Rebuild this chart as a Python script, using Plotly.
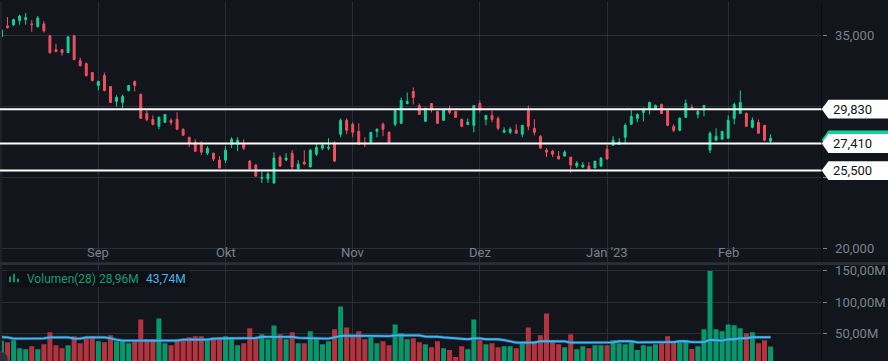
import plotly.graph_objects as go

# ---------------- data ----------------
open_ = [34930, 35700, 35770, 36070, 36140, 35840, 35630, 35840, 35000, 34020,
         34020, 33810, 35000, 33250, 33040, 32410, 31500, 32200, 31430, 30370,
         30300, 31150, 31780, 30870, 29530, 29110, 28620, 28900, 29040, 29110,
         28410, 27850, 27500, 27360, 26730, 26730, 26240, 26240, 27360, 27360,
         27430, 26170, 25890, 24960, 24910, 24630, 26450, 26240, 26730, 25610,
         26100, 25750, 26660, 27080, 27080, 27430, 28060, 29040, 28760, 28270,
         27430, 27500, 28270, 28760, 28200, 28760, 28830, 30230, 31080, 30090,
         28970, 30230, 29670, 29040, 29740, 29670, 29110, 28760, 28690, 30230,
         29110, 29390, 29180, 28200, 28200, 28340, 28060, 29740, 28480, 27920,
         26940, 26870, 26520, 26520, 26450, 25820, 25750, 25820, 25680, 25820,
         27010, 27290, 27360, 27850, 28760, 29180, 29600, 29880, 29880, 30160,
         29740, 28620, 28340, 29250, 29950, 29460, 29950, 26940, 27640, 27710,
         27780, 29180, 29530, 29530, 28550, 28900, 28690, 27570]
high = [35420, 36330, 36210, 36490, 36610, 36100, 36400, 36050, 35070, 34440,
        34020, 34930, 35070, 33460, 33110, 32410, 31850, 32410, 31430, 30800,
        30870, 31500, 31850, 30940, 29740, 29390, 29320, 29460, 29180, 29600,
        28480, 27850, 27710, 27570, 27220, 26730, 26520, 27220, 27850, 27850,
        27710, 26240, 25960, 25400, 25400, 26800, 26590, 26730, 26940, 26240,
        26940, 27010, 27430, 27500, 27780, 27570, 29180, 29180, 28900, 28830,
        27850, 28200, 28480, 28900, 28270, 29810, 30650, 31000, 31360, 30230,
        29950, 30230, 29670, 29880, 30090, 29670, 29180, 29180, 30090, 30440,
        29390, 29740, 29320, 28550, 28550, 28760, 28690, 30090, 29110, 27990,
        27080, 26940, 26870, 26940, 26450, 26170, 26100, 26100, 26170, 26450,
        27290, 27920, 27780, 28830, 29880, 29530, 29950, 30370, 30160, 30230,
        29810, 28760, 29250, 30510, 30160, 29810, 30090, 28270, 28480, 28270,
        29390, 30300, 31140, 29600, 29250, 29110, 28690, 28060]
low = [34650, 35510, 35700, 35790, 35790, 35280, 35630, 35230, 33740, 33880,
       33600, 33810, 33320, 32830, 32130, 31780, 31150, 31080, 30300, 30020,
       29880, 31080, 31080, 29180, 28970, 28690, 28410, 28900, 28690, 28410,
       27990, 27150, 26800, 26590, 26590, 26170, 25680, 26030, 27080, 26870,
       26940, 25610, 25050, 24630, 24630, 24560, 25750, 26170, 25470, 25610,
       25890, 25750, 26520, 26940, 26940, 26100, 27850, 28060, 27850, 27360,
       27150, 27360, 27850, 27920, 27430, 28620, 28830, 30160, 30160, 29460,
       28970, 29600, 28830, 29040, 29460, 29250, 28550, 28690, 28200, 29600,
       28690, 28900, 28340, 28130, 28060, 28130, 27850, 28340, 27990, 27080,
       26450, 26450, 26310, 26520, 25330, 25680, 25680, 25470, 25680, 25750,
       26310, 27290, 27360, 27360, 28760, 28900, 28970, 29460, 29810, 29530,
       28620, 28200, 28270, 29250, 29810, 29180, 29320, 26730, 27640, 27710,
       27780, 28760, 29530, 28620, 28480, 28130, 27570, 27360]
close = [35400, 35580, 36140, 36400, 36280, 35790, 36260, 35350, 33810, 33880,
         33810, 34930, 33320, 32900, 32200, 31850, 31780, 31150, 30300, 30650,
         30720, 31500, 31500, 29180, 29110, 28760, 29250, 29460, 28900, 28410,
         27990, 27430, 26870, 26800, 27080, 26310, 25680, 26940, 27710, 27640,
         27080, 25610, 25120, 25000, 25260, 26380, 25820, 26380, 25750, 25960,
         25960, 26940, 27150, 27290, 27150, 26170, 29040, 28340, 28200, 27360,
         27360, 28200, 28410, 28410, 27430, 29740, 30440, 30370, 30650, 29460,
         29880, 29810, 28830, 29810, 29600, 29250, 28620, 28900, 30090, 29810,
         29390, 29110, 28480, 28340, 28410, 28130, 28690, 28620, 28200, 27080,
         26800, 26660, 26310, 26800, 25890, 26030, 25890, 25470, 26170, 26380,
         26310, 27640, 27500, 28690, 29320, 29460, 29810, 30300, 30090, 29530,
         28690, 28340, 29180, 30230, 29810, 29670, 30090, 28130, 27920, 28270,
         29040, 30160, 30300, 28620, 29040, 28130, 27640, 27780]
volume_m = [38.0, 35.7, 38.9, 26.2, 24.6, 29.4, 24.6, 32.6, 51.5, 31.0,
            26.2, 31.0, 45.2, 34.1, 42.0, 45.2, 37.3, 35.7, 46.8, 37.3,
            37.3, 34.1, 37.3, 72.1, 40.5, 40.5, 73.7, 34.1, 31.0, 40.5,
            40.5, 43.6, 45.2, 45.2, 40.5, 42.0, 43.6, 45.2, 43.6, 31.0,
            34.1, 57.9, 43.6, 48.4, 40.5, 62.6, 48.4, 40.5, 51.5, 34.1,
            34.1, 53.1, 42.0, 32.6, 37.3, 56.3, 92.7, 59.4, 46.8, 53.1,
            40.5, 43.6, 34.1, 37.3, 31.0, 64.2, 50.0, 40.5, 42.0, 35.7,
            32.6, 27.8, 37.3, 26.2, 23.1, 12.0, 29.4, 24.6, 72.1, 38.9,
            32.6, 34.1, 27.8, 29.4, 29.4, 26.2, 34.1, 59.4, 37.3, 46.8,
            81.6, 37.3, 32.6, 27.8, 48.4, 24.6, 29.4, 26.2, 31.0, 31.0,
            31.0, 38.9, 34.1, 32.6, 35.7, 23.1, 31.0, 29.4, 32.6, 34.2,
            45.3, 37.3, 35.8, 38.9, 24.7, 29.4, 56.3, 149.7, 56.3, 53.2,
            64.2, 62.7, 57.9, 50.0, 51.6, 34.2, 38.9, 29.0]
vol_ma_m = [44.0, 43.5, 41.5, 41.5, 41.5, 41.5, 41.5, 42.0, 43.6, 43.6,
            43.6, 43.6, 41.5, 41.5, 43.6, 43.6, 43.6, 43.6, 42.0, 39.5,
            38.3, 38.3, 38.3, 38.3, 38.3, 38.3, 38.3, 38.3, 38.3, 38.3,
            39.9, 39.9, 39.9, 39.9, 39.9, 41.5, 41.5, 41.5, 42.5, 42.5,
            42.5, 42.5, 42.5, 44.2, 44.2, 44.2, 44.2, 44.2, 44.2, 42.6,
            42.6, 42.6, 42.6, 42.6, 41.5, 43.5, 45.7, 46.3, 46.3, 46.3,
            46.3, 46.3, 46.3, 45.5, 45.5, 46.8, 46.8, 46.8, 46.8, 46.8,
            44.7, 45.2, 44.5, 43.5, 42.6, 41.5, 40.5, 40.5, 42.0, 42.0,
            40.5, 40.5, 40.5, 39.0, 36.5, 35.2, 35.2, 35.2, 35.2, 37.3,
            37.3, 37.3, 37.3, 37.0, 35.2, 35.2, 35.2, 35.2, 35.2, 35.2,
            35.5, 35.5, 37.3, 37.3, 37.3, 35.5, 35.8, 35.8, 35.8, 35.8,
            35.8, 35.8, 37.3, 37.3, 35.8, 35.8, 35.8, 39.5, 38.4, 38.4,
            40.5, 40.5, 42.1, 42.1, 43.7, 43.7, 43.7, 43.7]
idx = list(range(len(open_)))

month_idx = [16, 37, 58, 79, 100, 120]
month_labels = ["Sep", "Okt", "Nov", "Dez", "Jan '23", "Feb"]
price_ticks = [20000, 25000, 30000, 35000]
# 25,000 and 30,000 sit under the white level labels in the reference
price_tick_text = ["20,000", "", "", "35,000"]
vol_ticks = [50, 100, 150]
vol_tick_text = ["50,00M", "100,00M", "150,00M"]
level_prices = [29830, 27410, 25500]
level_text = ["29,830", "27,410", "25,500"]
legend_name = "Volumen(28)"
legend_last = "28,96M"
legend_ma = "43,74M"

# ---------------- style ----------------
W, H = 888, 361
BG = "#12151c"
GRID = "#2b2e37"
UP = "#14d39a"
DOWN = "#f4505f"
VUP = "#07976a"
VDOWN = "#b3343f"
MA = "#3fb6f2"
AXT = "#7d808a"
FONT = "Roboto"

PLOT_R = 821.5 / W           # right edge of the plotting area (paper)
PRICE_BOT = (H - 262) / H     # price pane bottom (paper)
VOL_TOP = (H - 264.5) / H     # volume pane top (paper)
XR = [-0.243, 135.41]

def py(p):
    return (H - p) / H

vol_colors = [VUP if c >= o else VDOWN for o, c in zip(open_, close)]

fig = go.Figure()
fig.add_trace(go.Candlestick(
    x=idx, open=open_, high=high, low=low, close=close,
    increasing=dict(line=dict(color=UP, width=1), fillcolor=UP),
    decreasing=dict(line=dict(color=DOWN, width=1), fillcolor=DOWN),
    whiskerwidth=0, hoverinfo="skip", showlegend=False,
    xaxis="x", yaxis="y"))
fig.add_trace(go.Bar(
    x=idx, y=volume_m, marker=dict(color=vol_colors, line=dict(width=0)),
    hoverinfo="skip", showlegend=False, xaxis="x2", yaxis="y2"))
fig.add_trace(go.Scatter(
    x=idx, y=vol_ma_m, mode="lines", line=dict(color="#2a7fb8", width=3.2),
    opacity=0.6, hoverinfo="skip", showlegend=False, xaxis="x2", yaxis="y2"))
fig.add_trace(go.Scatter(
    x=idx, y=vol_ma_m, mode="lines", line=dict(color=MA, width=1.8),
    hoverinfo="skip", showlegend=False, xaxis="x2", yaxis="y2"))

shapes = []
# right axis border
shapes.append(dict(type="line", xref="paper", yref="paper", x0=PLOT_R, x1=PLOT_R,
                   y0=0, y1=1, line=dict(color="#0a0c10", width=1), layer="above"))
# left edge strip
shapes.append(dict(type="rect", xref="paper", yref="paper", x0=0, x1=2 / W,
                   y0=0, y1=1, fillcolor="#1e2129", line=dict(width=0), layer="above"))
# pane separator
shapes.append(dict(type="rect", xref="paper", yref="paper", x0=0, x1=1,
                   y0=py(264.5), y1=py(261.8), fillcolor="#2c2f37",
                   line=dict(width=0), layer="above"))
# horizontal levels
for p in level_prices:
    shapes.append(dict(type="line", xref="paper", yref="y", x0=0, x1=PLOT_R,
                       y0=p, y1=p, line=dict(color="#ffffff", width=2), layer="above"))

HALF = 9.5 * (37383 - 19019) / 262.0
tip_x = 821.7 / W
box_x = 828.5 / W

def label_path(c):
    return (f"M {tip_x},{c} L {box_x},{c + HALF} L 1,{c + HALF} "
            f"L 1,{c - HALF} L {box_x},{c - HALF} Z")

# current price (green) label, partly hidden
shapes.append(dict(type="path", xref="paper", yref="y", path=label_path(close[-1] - 120),
                   fillcolor=UP, line=dict(width=0), layer="above"))
for p in level_prices:
    shapes.append(dict(type="path", xref="paper", yref="y", path=label_path(p),
                       fillcolor="#ffffff", line=dict(width=0), layer="above"))

# volume legend box and icon
shapes.append(dict(type="rect", xref="paper", yref="paper", x0=7 / W, x1=189 / W,
                   y0=py(286.5), y1=py(270), fillcolor="#0e1015",
                   line=dict(width=0), layer="above"))
for (xa, xb, yt) in [(9, 11, 276), (13, 15, 273.3), (17, 19, 278.3)]:
    shapes.append(dict(type="rect", xref="paper", yref="paper", x0=xa / W, x1=xb / W,
                       y0=py(281.7), y1=py(yt), fillcolor=VUP,
                       line=dict(width=0), layer="above"))
# logo stub bottom-left
shapes.append(dict(type="circle", xref="paper", yref="paper", x0=-6 / W, x1=8 / W,
                   y0=py(366), y1=py(352), fillcolor="#2d2f34",
                   line=dict(color="#4a4b4f", width=1), layer="above"))

annotations = []
for k, lab in zip(month_idx, month_labels):
    annotations.append(dict(x=k, xref="x", y=py(252), yref="paper", text=lab,
                            showarrow=False, xanchor="center", yanchor="middle",
                            font=dict(family=FONT, size=13, color=AXT)))
for p, t in zip(level_prices, level_text):
    annotations.append(dict(x=831 / W, xref="paper", y=p, yref="y", text=t,
                            showarrow=False, xanchor="left", yanchor="middle",
                            font=dict(family=FONT, size=13, color="#131722")))
annotations.append(dict(x=24.5 / W, xref="paper", y=py(278.3), yref="paper",
                        text=legend_name, showarrow=False, xanchor="left",
                        yanchor="middle", font=dict(family=FONT, size=12, color="#0e9f74")))
annotations.append(dict(x=96.5 / W, xref="paper", y=py(278.3), yref="paper",
                        text=legend_last, showarrow=False, xanchor="left",
                        yanchor="middle", font=dict(family=FONT, size=12, color="#0e9f74")))
annotations.append(dict(x=143.5 / W, xref="paper", y=py(278.3), yref="paper",
                        text=legend_ma, showarrow=False, xanchor="left",
                        yanchor="middle", font=dict(family=FONT, size=12, color="#47b4ee")))

xcommon = dict(range=XR, domain=[0, PLOT_R], tickvals=month_idx, showticklabels=False,
               showgrid=True, gridcolor=GRID, gridwidth=1, zeroline=False,
               showline=False, ticks="", fixedrange=True)

fig.update_layout(
    width=W, height=H, autosize=False,
    margin=dict(l=0, r=0, t=0, b=0, pad=0),
    paper_bgcolor=BG, plot_bgcolor=BG,
    font=dict(family=FONT, color=AXT, size=13),
    showlegend=False, boxgap=0.55, bargap=0.17,
    xaxis=dict(anchor="y", rangeslider=dict(visible=False), **xcommon),
    xaxis2=dict(anchor="y2", **xcommon),
    yaxis=dict(domain=[PRICE_BOT, 1], range=[19019, 37383], side="right",
               anchor="x", tickvals=price_ticks, ticktext=price_tick_text,
               showgrid=True, gridcolor=GRID, zeroline=False, ticks="outside",
               ticklen=4, tickcolor=AXT, ticklabelstandoff=6,
               tickfont=dict(family=FONT, size=13, color=AXT), fixedrange=True),
    yaxis2=dict(domain=[0, VOL_TOP], range=[5.7, 159.2], side="right", anchor="x2",
                tickvals=vol_ticks, ticktext=vol_tick_text, showgrid=True,
                gridcolor=GRID, zeroline=False, ticks="outside", ticklen=4,
                tickcolor=AXT, ticklabelstandoff=6,
                tickfont=dict(family=FONT, size=13, color=AXT), fixedrange=True),
    shapes=shapes, annotations=annotations,
)

fig.write_html("out.html", config={"displayModeBar": False, "staticPlot": True},
               post_script="document.body.style.margin='0';document.body.style.overflow='hidden';")
